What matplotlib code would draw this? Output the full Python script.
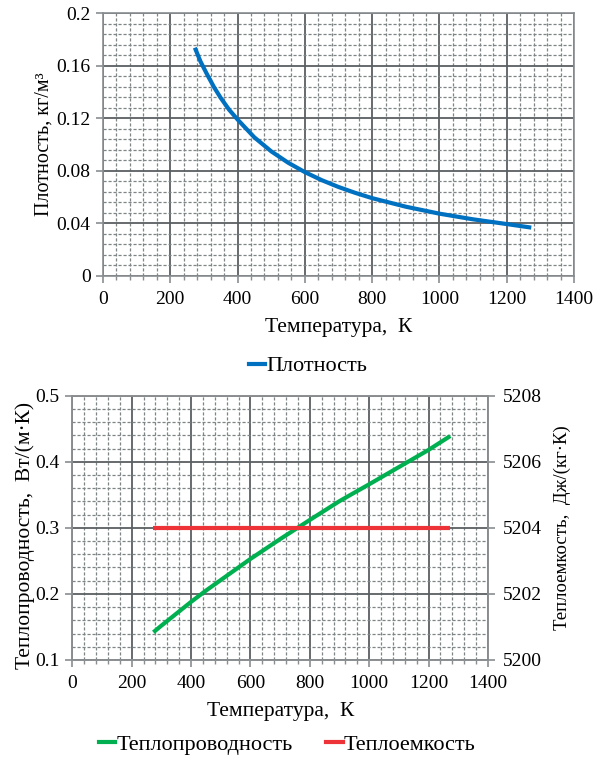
import matplotlib
matplotlib.use("Agg")
import matplotlib.pyplot as plt
from matplotlib.ticker import MultipleLocator, FuncFormatter
from matplotlib.lines import Line2D

plt.rcParams['font.family'] = ['Liberation Serif', 'DejaVu Serif']

# Data
rho_temp = [273, 290, 310, 330, 350, 375, 400, 450, 500, 550, 600, 650, 700, 750, 800,
            900, 1000, 1100, 1200, 1273]
density = [0.1736, 0.163, 0.153, 0.1436, 0.1354, 0.1264, 0.119, 0.1054, 0.0948, 0.0862,
           0.0790, 0.0729, 0.0677, 0.0632, 0.0592, 0.0527, 0.0474, 0.0431, 0.0395, 0.0368]

temp = [273, 300, 350, 400, 450, 500, 600, 700, 800, 900, 1000, 1100, 1200, 1273]
conductivity = [0.142, 0.152, 0.170, 0.188, 0.205, 0.221, 0.253, 0.283, 0.312, 0.3405,
                0.366, 0.392, 0.418, 0.439]
heat_capacity = [5204] * len(temp)

x_label = "Температура,  К"
rho_label = "Плотность, кг/м³"
k_label = "Теплопроводность,  Вт/(м·К)"
cp_label = "Теплоемкость,  Дж/(кг·К)"

C_RHO = '#0070C0'
C_K = '#00B050'
C_CP = '#EE3338'
MAJ = '#5a5f62'
MIN = '#7f8487'
SP = '#8a8e90'
SERIF = 'Liberation Serif'

W, H = 593, 759
fig = plt.figure(figsize=(W / 100, H / 100), dpi=100)

TICK_FS = 14
XLAB_FS = 15.5
LEG_FS = 16

fmt = FuncFormatter(lambda v, p: f"{v:g}")


def style(ax, xmaj, xmin, ymaj, ymin):
    ax.xaxis.set_major_locator(MultipleLocator(xmaj))
    ax.xaxis.set_minor_locator(MultipleLocator(xmin))
    ax.yaxis.set_major_locator(MultipleLocator(ymaj))
    ax.yaxis.set_minor_locator(MultipleLocator(ymin))
    ax.grid(which='major', color=MAJ, lw=1.3, ls='-')
    ax.grid(which='minor', color=MIN, lw=0.9, ls=(0, (2.5, 1.5)))
    ax.set_axisbelow(True)
    for s in ax.spines.values():
        s.set_color(SP)
        s.set_linewidth(1.2)
    ax.tick_params(which='major', direction='out', length=5, width=1.2, color=SP,
                   labelsize=TICK_FS, pad=4)
    ax.tick_params(axis='x', which='major', pad=6)
    ax.tick_params(which='minor', direction='out', length=3, width=1.0, color=SP)
    ax.tick_params(axis='y', which='minor', length=0)
    ax.xaxis.set_major_formatter(fmt)
    ax.yaxis.set_major_formatter(fmt)
    for lbl in ax.get_xticklabels() + ax.get_yticklabels():
        lbl.set_fontfamily(SERIF)


# Top chart
ax1 = fig.add_axes([103 / W, 1 - 276 / H, (574 - 103) / W, (276 - 13) / H])
ax1.plot(rho_temp, density, color=C_RHO, lw=3, solid_capstyle='butt')
ax1.set_xlim(0, 1400)
ax1.set_ylim(0, 0.2)
style(ax1, 200, 40, 0.04, 0.008)
ax1.set_xlabel(x_label, fontsize=XLAB_FS, labelpad=7)
ax1.set_ylabel(rho_label, fontsize=14.5, labelpad=2)

fig.legend(handles=[Line2D([], [], color=C_RHO, lw=3)], labels=['Плотность'],
           loc='center', bbox_to_anchor=(308 / W, 1 - 366 / H), frameon=False,
           prop={'family': SERIF, 'size': LEG_FS}, handlelength=0.75, handletextpad=0.05)

# Bottom chart
ax2 = fig.add_axes([72.3 / W, 1 - 660 / H, (488 - 72.3) / W, (660 - 395.7) / H])
ax2.plot(temp, conductivity, color=C_K, lw=3, solid_capstyle='butt')
ax2.set_xlim(0, 1400)
ax2.set_ylim(0.1, 0.5)
style(ax2, 200, 40, 0.1, 0.02)
ax2.set_xlabel(x_label, fontsize=XLAB_FS, labelpad=7)
ax2.set_ylabel(k_label, fontsize=15.5, labelpad=0, y=0.47)

ax3 = ax2.twinx()
ax3.plot(temp, heat_capacity, color=C_CP, lw=3, solid_capstyle='butt')
ax3.set_ylim(5200, 5208)
ax3.yaxis.set_major_locator(MultipleLocator(2))
ax3.yaxis.set_major_formatter(FuncFormatter(lambda v, p: f"{v:.0f}"))
for s in ax3.spines.values():
    s.set_color(SP)
    s.set_linewidth(1.2)
ax3.tick_params(which='major', direction='out', length=5, width=1.2, color=SP,
                labelsize=TICK_FS, pad=6)
for lbl in ax3.get_yticklabels():
    lbl.set_fontfamily(SERIF)
ax3.set_ylabel(cp_label, fontsize=13.5, labelpad=8)

fig.legend(handles=[Line2D([], [], color=C_K, lw=3), Line2D([], [], color=C_CP, lw=3)],
           labels=['Теплопроводность', 'Теплоемкость'],
           loc='center', bbox_to_anchor=(287 / W, 1 - 745 / H), frameon=False, ncol=2,
           prop={'family': SERIF, 'size': LEG_FS}, handlelength=0.75, handletextpad=0.05,
           columnspacing=1.5)

fig.savefig('out.png', dpi=100)
